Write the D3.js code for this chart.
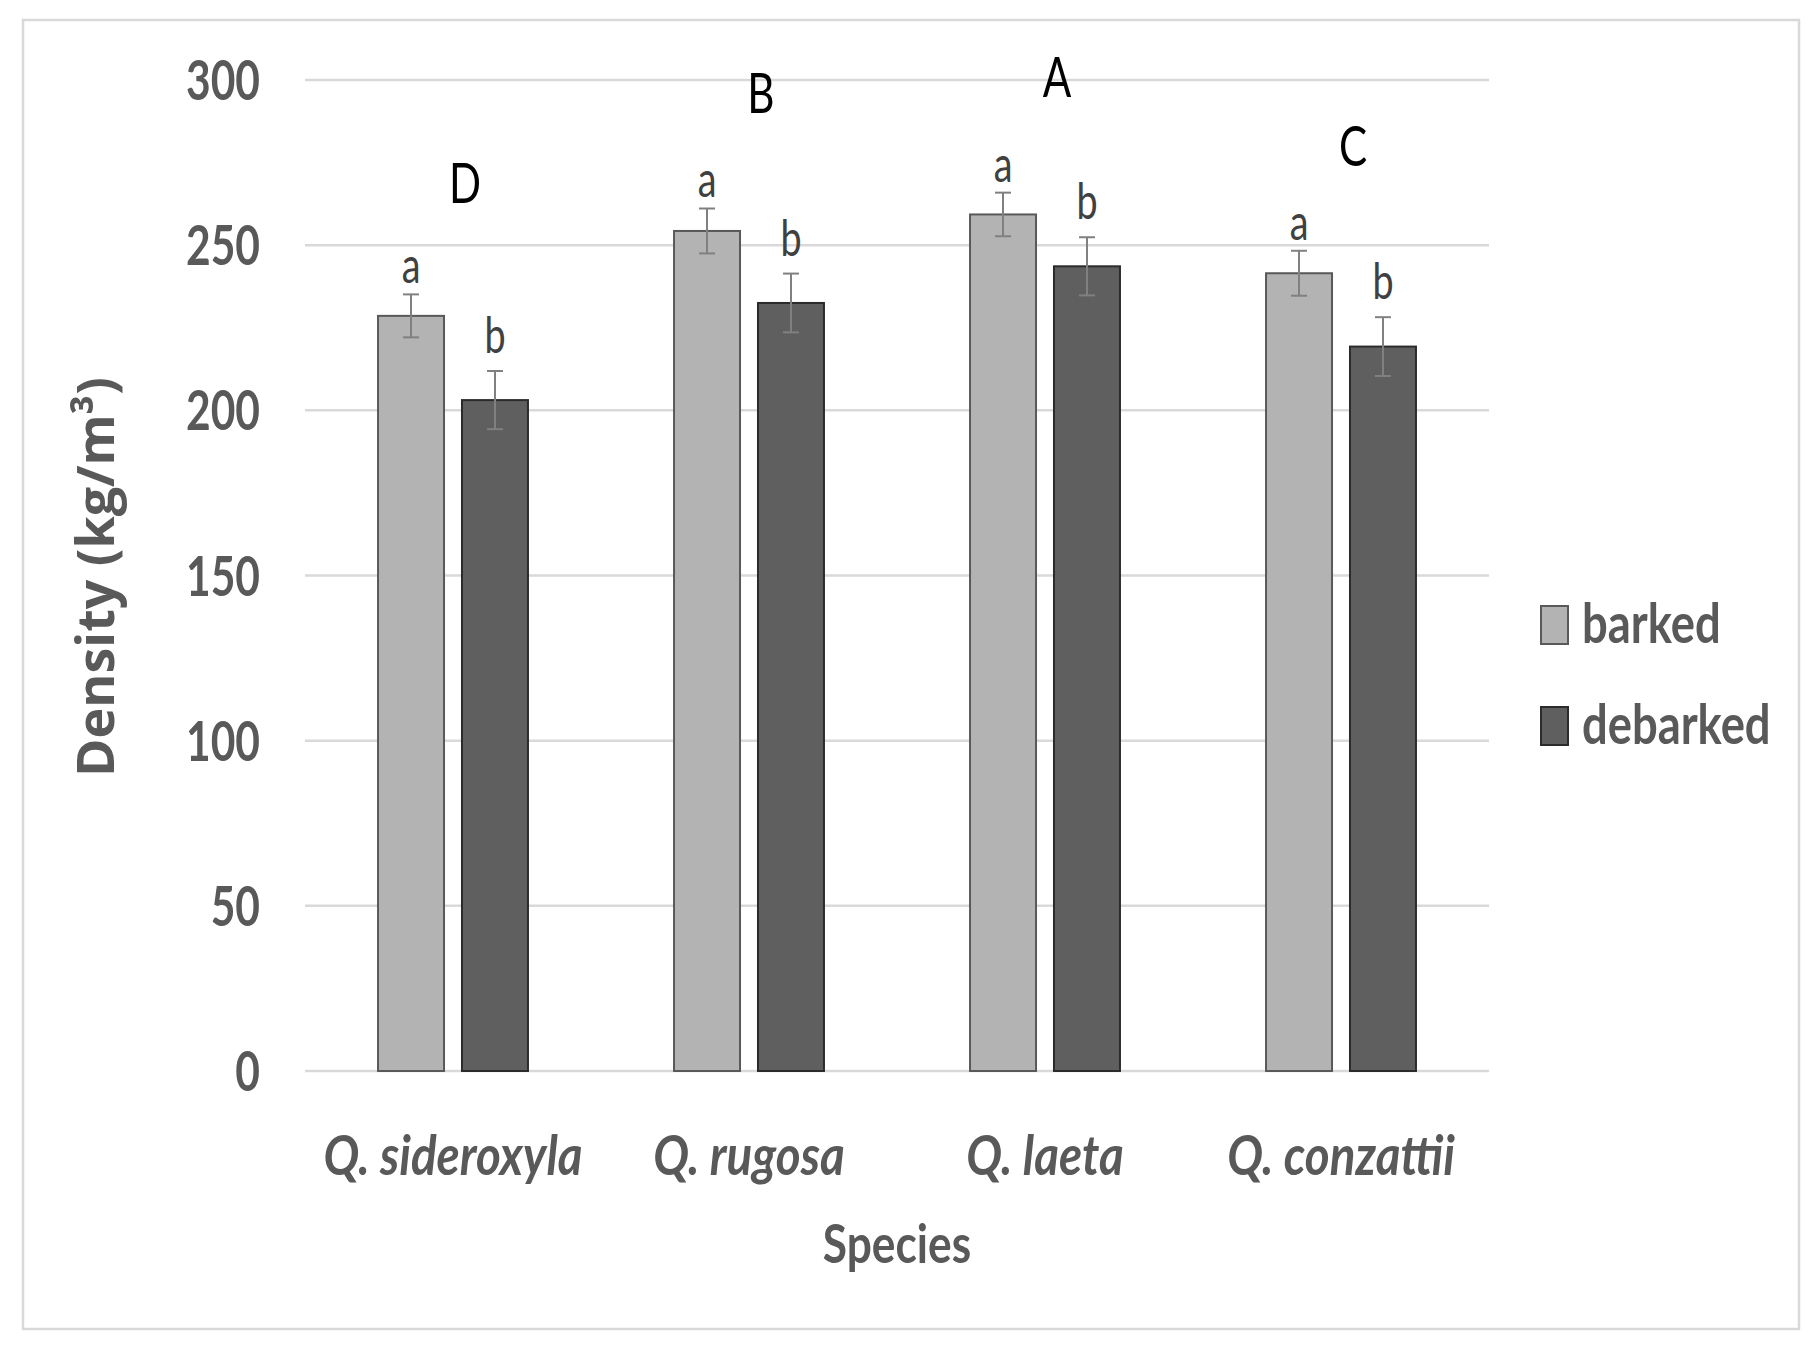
<!DOCTYPE html>
<meta charset="utf-8">
<script src="https://d3js.org/d3.v7.min.js"></script>
<title>Density of barked and debarked wood by species</title>
<style>
    body { margin: 0; background: #fff; }
    #chart { position: relative; }
</style>
<div id="chart"></div>
<script>
    // values
    const species = ["Q. sideroxyla", "Q. rugosa", "Q. laeta", "Q. conzattii"];
    const treatments = ["barked", "debarked"];
    const barked = [228.6, 254.3, 259.3, 241.5];
    const debarked = [203.1, 232.5, 243.6, 219.3];
    const barkedErr = [6.5, 6.8, 6.6, 6.8];
    const debarkedErr = [8.8, 8.9, 8.8, 8.9];
    const barkedLetters = ["a", "a", "a", "a"];
    const debarkedLetters = ["b", "b", "b", "b"];
    const speciesLetters = ["D", "B", "A", "C"];
    const speciesLetterAt = [262.8, 290.0, 294.9, 274.0];   // in kg/m3
    const yTicks = [0, 50, 100, 150, 200, 250, 300];

    const W = 1820, H = 1352;

    const colors = {barked: "#b3b3b3", debarked: "#5f5f5f"};
    const strokes = {barked: "#595959", debarked: "#2b2b2b"};

    // one row per bar
    const rows = [];
    species.forEach((s, i) => {
        rows.push({species: s, key: "barked", value: barked[i], err: barkedErr[i], letter: barkedLetters[i]});
        rows.push({species: s, key: "debarked", value: debarked[i], err: debarkedErr[i], letter: debarkedLetters[i]});
    });

    const svg = d3.select("#chart")
        .append("svg")
        .attr("width", W)
        .attr("height", H);

    svg.append("rect")
        .attr("width", W).attr("height", H)
        .attr("fill", "#fff");

    svg.append("rect")
        .attr("x", 23).attr("y", 20)
        .attr("width", 1776).attr("height", 1309)
        .attr("fill", "none")
        .attr("stroke", "#d9d9d9")
        .attr("stroke-width", 2.5);

    const x0 = d3.scaleBand()
        .domain(species)
        .range([305, 1489]);

    const x1 = d3.scaleBand()
        .domain(treatments)
        .range([0, x0.bandwidth()])
        .paddingInner(0.214)
        .paddingOuter(0.87);

    const y = d3.scaleLinear()
        .domain([0, 300])
        .range([1071, 80]);

    // the picture is squeezed sideways, so text is drawn narrowed
    function label(g, x, yy, str, sx) {
        return g.append("g")
            .attr("transform", `translate(${x},${yy}) scale(${sx},1)`)
            .append("text")
            .text(str);
    }

    // gridlines
    svg.append("g")
        .selectAll("line")
        .data(yTicks)
        .join("line")
        .attr("x1", x0.range()[0])
        .attr("x2", x0.range()[1])
        .attr("y1", d => y(d))
        .attr("y2", d => y(d))
        .attr("stroke", "#d9d9d9")
        .attr("stroke-width", 2.5);

    // y tick labels
    const yAxis = svg.append("g");
    yTicks.forEach(t => {
        label(yAxis, 260, y(t), t, 0.76)
            .attr("text-anchor", "end")
            .attr("dy", "0.36em")
            .style("font-family", "Lato")
            .style("font-weight", "bold")
            .style("font-size", "56px")
            .attr("fill", "#595959");
    });

    // bars
    svg.append("g")
        .selectAll("rect")
        .data(rows)
        .join("rect")
        .attr("x", d => x0(d.species) + x1(d.key))
        .attr("y", d => y(d.value))
        .attr("width", x1.bandwidth())
        .attr("height", d => y(0) - y(d.value))
        .attr("fill", d => colors[d.key])
        .attr("stroke", d => strokes[d.key])
        .attr("stroke-width", 2);

    // error bars
    const eb = svg.append("g")
        .attr("stroke", "#808080")
        .attr("stroke-width", 2)
        .selectAll("g")
        .data(rows)
        .join("g")
        .attr("transform", d => `translate(${x0(d.species) + x1(d.key) + x1.bandwidth() / 2},0)`);

    eb.append("line")
        .attr("y1", d => y(d.value - d.err))
        .attr("y2", d => y(d.value + d.err));
    eb.append("line")
        .attr("x1", -8).attr("x2", 8)
        .attr("y1", d => y(d.value + d.err))
        .attr("y2", d => y(d.value + d.err));
    eb.append("line")
        .attr("x1", -8).attr("x2", 8)
        .attr("y1", d => y(d.value - d.err))
        .attr("y2", d => y(d.value - d.err));

    // a / b letters above bars
    const lettersG = svg.append("g");
    rows.forEach(d => {
        const gap = d.key === "barked" ? 11 : 18;
        label(lettersG, x0(d.species) + x1(d.key) + x1.bandwidth() / 2, y(d.value + d.err) - gap, d.letter, 0.74)
            .attr("text-anchor", "middle")
            .style("font-family", "Lato")
            .style("font-size", "51px")
            .attr("fill", "#404040");
    });

    // species group letters
    species.forEach((s, i) => {
        label(lettersG, x0(s) + x0.bandwidth() / 2 + 12, y(speciesLetterAt[i]), speciesLetters[i], 0.74)
            .attr("text-anchor", "middle")
            .style("font-family", "Lato")
            .style("font-size", "57px")
            .attr("fill", "#000");
    });

    // x axis labels
    const xAxis = svg.append("g");
    species.forEach(s => {
        label(xAxis, x0(s) + x0.bandwidth() / 2, 1175, s, 0.85)
            .attr("text-anchor", "middle")
            .style("font-family", "Lato")
            .style("font-weight", "bold")
            .style("font-style", "italic")
            .style("font-size", "56px")
            .attr("fill", "#595959");
    });

    label(svg, (x0.range()[0] + x0.range()[1]) / 2, 1263, "Species", 0.82)
        .attr("text-anchor", "middle")
        .style("font-family", "Lato")
        .style("font-weight", "bold")
        .style("font-size", "54px")
        .attr("fill", "#595959");

    // y axis title
    svg.append("text")
        .attr("transform", "translate(114,577) rotate(-90)")
        .attr("text-anchor", "middle")
        .style("font-family", "Open Sans")
        .style("font-weight", "bold")
        .style("font-size", "52px")
        .attr("fill", "#595959")
        .text("Density (kg/m³)");

    // legend
    const legend = svg.append("g");
    treatments.forEach((t, i) => {
        const ly = 606 + i * 101;
        legend.append("rect")
            .attr("x", 1541).attr("y", ly)
            .attr("width", 27).attr("height", 38)
            .attr("fill", colors[t])
            .attr("stroke", strokes[t])
            .attr("stroke-width", 2);
        label(legend, 1582, ly + 37, t, 0.81)
            .style("font-family", "Lato")
            .style("font-weight", "bold")
            .style("font-size", "56px")
            .attr("fill", "#595959");
    });
</script>
